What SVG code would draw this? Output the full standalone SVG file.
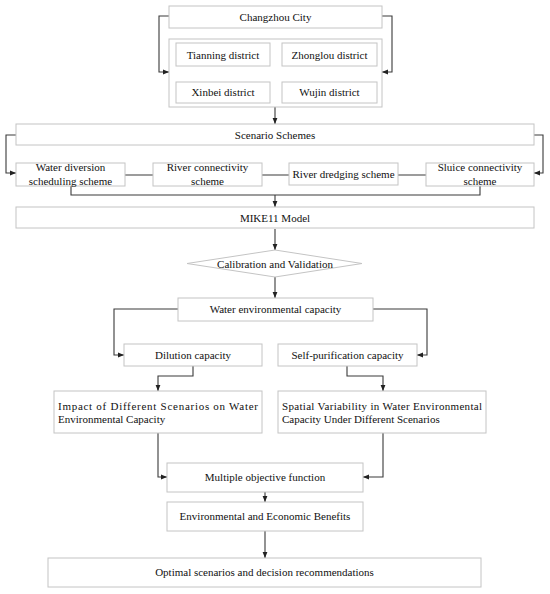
<svg xmlns="http://www.w3.org/2000/svg" width="550" height="594" viewBox="0 0 550 594">
<style>
.b{fill:#fff;stroke:#c4c4c4;stroke-width:1}
.t{font-family:"Liberation Serif","Times New Roman",serif;font-size:11px;fill:#111;text-anchor:middle}
.tl{font-family:"Liberation Serif","Times New Roman",serif;font-size:11px;fill:#111}
.c{fill:none;stroke:#3a3a3a;stroke-width:1.1}
</style>
<defs>
<marker id="a" viewBox="0 0 10 10" refX="10" refY="5" markerWidth="6" markerHeight="6" orient="auto" markerUnits="userSpaceOnUse">
<path d="M0,1 L10,5 L0,9 Z" fill="#222"/>
</marker>
</defs>
<rect width="550" height="594" fill="#fff"/>
<g id="connectors">
<path class="c" d="M169,16 H159 V72 H169" marker-end="url(#a)"/>
<path class="c" d="M382,16 H392 V72 H382" marker-end="url(#a)"/>
<path class="c" d="M275,107 V124" marker-end="url(#a)"/>
<path class="c" d="M16,135 H6 V173 H16" marker-end="url(#a)"/>
<path class="c" d="M534,135 H543 V173 H534" marker-end="url(#a)"/>
<path class="c" d="M125,175 H153 M262,175 H289 M398,175 H426"/>
<path class="c" d="M71,186 V195 H480 V186"/>
<path class="c" d="M275,195 V207" marker-end="url(#a)"/>
<path class="c" d="M275,229 V250" marker-end="url(#a)"/>
<path class="c" d="M275,277 V298" marker-end="url(#a)"/>
<path class="c" d="M178,309 H114 V355 H124" marker-end="url(#a)"/>
<path class="c" d="M373,309 H427 V355 H417" marker-end="url(#a)"/>
<path class="c" d="M193,366 V376 H158 V391" marker-end="url(#a)"/>
<path class="c" d="M347,366 V376 H383 V391" marker-end="url(#a)"/>
<path class="c" d="M158,433 V477 H167" marker-end="url(#a)"/>
<path class="c" d="M383,433 V477 H363" marker-end="url(#a)"/>
<path class="c" d="M265,492 V502" marker-end="url(#a)"/>
<path class="c" d="M265,531 V558" marker-end="url(#a)"/>
</g>
<g id="changzhou"><rect class="b" x="169" y="6" width="213" height="22"/><text class="t" x="275.5" y="21">Changzhou City</text></g>
<g id="districts"><rect class="b" x="169" y="39" width="213" height="68"/></g>
<g id="tianning"><rect class="b" x="176" y="43" width="94" height="23"/><text class="t" x="223" y="58.5">Tianning district</text></g>
<g id="zhonglou"><rect class="b" x="282" y="43" width="95" height="23"/><text class="t" x="329.5" y="58.5">Zhonglou district</text></g>
<g id="xinbei"><rect class="b" x="176" y="82" width="94" height="21"/><text class="t" x="223" y="96">Xinbei district</text></g>
<g id="wujin"><rect class="b" x="282" y="82" width="95" height="21"/><text class="t" x="329.5" y="96">Wujin district</text></g>
<g id="scenario"><rect class="b" x="16" y="124" width="518" height="21"/><text class="t" x="275" y="138.5">Scenario Schemes</text></g>
<g id="diversion"><rect class="b" x="16" y="163" width="109" height="23"/><text class="t" x="70.5" y="171">Water diversion</text><text class="t" x="70.5" y="185">scheduling scheme</text></g>
<g id="connectivity"><rect class="b" x="153" y="163" width="109" height="23"/><text class="t" x="207.5" y="171">River connectivity</text><text class="t" x="207.5" y="185">scheme</text></g>
<g id="dredging"><rect class="b" x="289" y="163" width="109" height="22"/><text class="t" x="343.5" y="178">River dredging scheme</text></g>
<g id="sluice"><rect class="b" x="426" y="163" width="108" height="23"/><text class="t" x="480" y="171">Sluice connectivity</text><text class="t" x="480" y="185">scheme</text></g>
<g id="mike11"><rect class="b" x="16" y="207" width="518" height="21"/><text class="t" x="275" y="221.5">MIKE11 Model</text></g>
<g id="calibration"><polygon class="b" points="187,263.5 275,250 362,263.5 275,277"/><text class="t" x="275" y="267.5">Calibration and Validation</text></g>
<g id="wec"><rect class="b" x="178" y="298" width="195" height="23"/><text class="t" x="275.5" y="313">Water environmental capacity</text></g>
<g id="dilution"><rect class="b" x="124" y="344" width="138" height="22"/><text class="t" x="193" y="359">Dilution capacity</text></g>
<g id="selfpur"><rect class="b" x="278" y="344" width="139" height="22"/><text class="t" x="347.5" y="359">Self-purification capacity</text></g>
<g id="impact"><rect class="b" x="54" y="391" width="208" height="42"/><text class="tl" x="58" y="410" textLength="200" lengthAdjust="spacing">Impact of Different Scenarios on Water</text><text class="tl" x="58" y="423">Environmental Capacity</text></g>
<g id="spatial"><rect class="b" x="278" y="391" width="208" height="42"/><text class="tl" x="282" y="410" textLength="200" lengthAdjust="spacing">Spatial Variability in Water Environmental</text><text class="tl" x="282" y="423">Capacity Under Different Scenarios</text></g>
<g id="multiple"><rect class="b" x="167" y="463" width="196" height="29"/><text class="t" x="265" y="481">Multiple objective function</text></g>
<g id="benefits"><rect class="b" x="167" y="502" width="196" height="29"/><text class="t" x="265" y="520">Environmental and Economic Benefits</text></g>
<g id="optimal"><rect class="b" x="48" y="558" width="433" height="29"/><text class="t" x="264.5" y="576">Optimal scenarios and decision recommendations</text></g>
</svg>
